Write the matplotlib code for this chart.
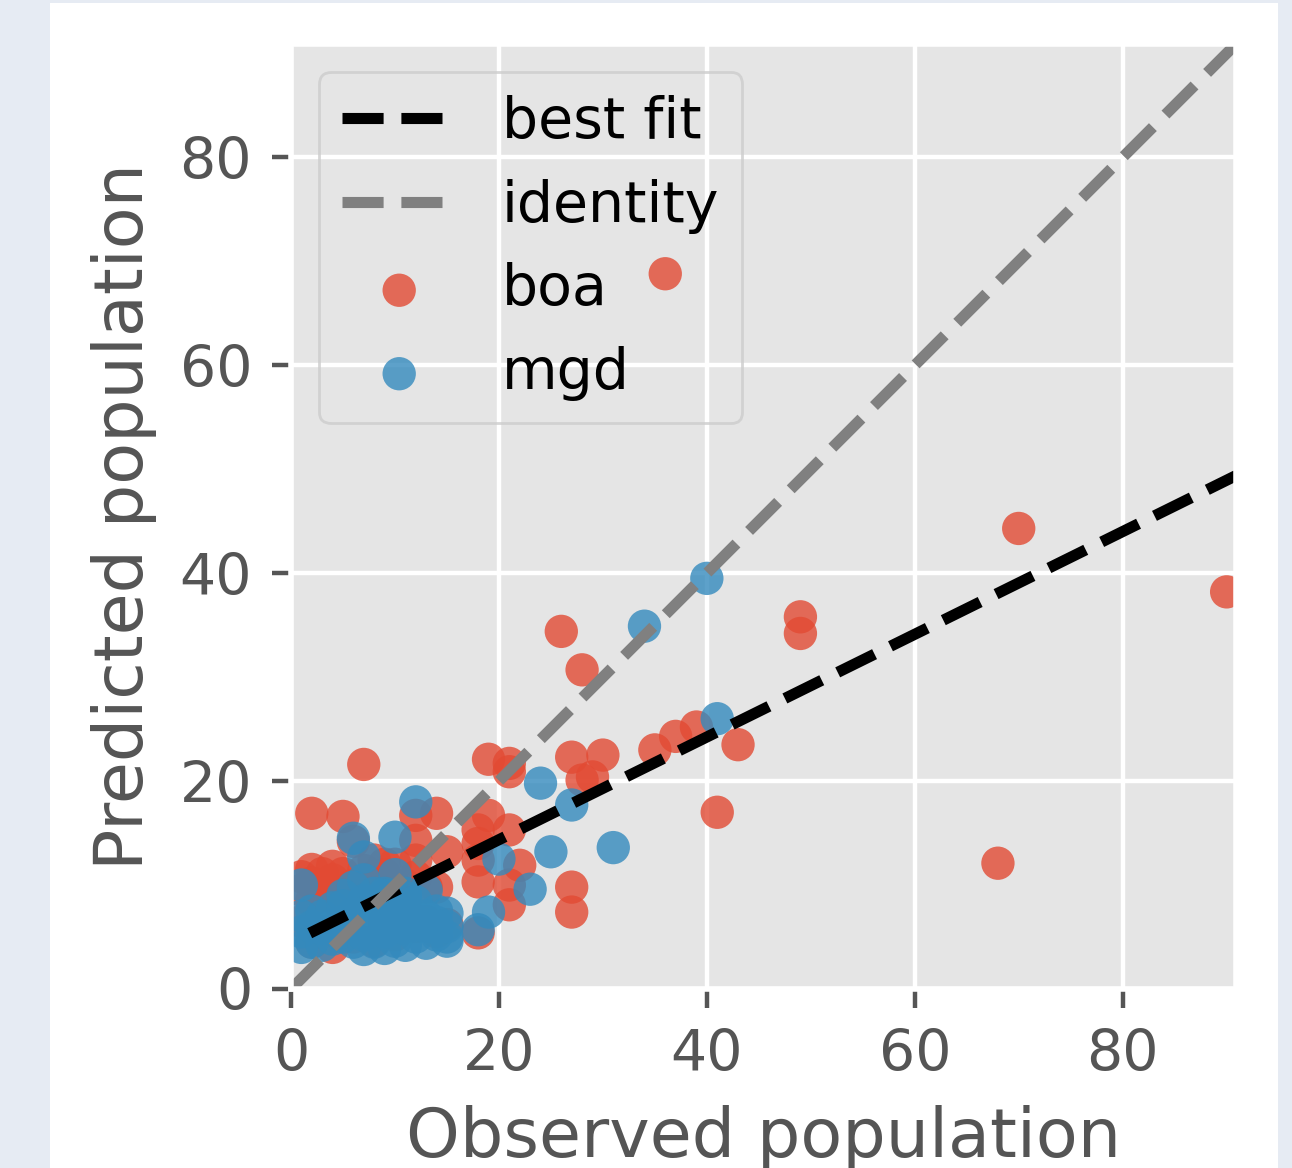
# observed vs predicted population, boa / mgd
import numpy as np
import matplotlib.pyplot as plt
from matplotlib.patches import Rectangle

plt.style.use("ggplot")
plt.rcParams["font.size"] = 10.25

DPI = 400
LIM = 90.9

# boa: (observed, predicted)
boa_obs = [36, 70, 90, 49, 49, 26, 28, 43, 41, 68,
           39, 37, 35, 30, 27, 28, 29, 27, 27,
           19, 21, 21, 19, 18, 21, 18, 15, 22, 18, 18, 21, 21, 18,
           7, 2, 5, 12, 14, 6, 12, 8, 9, 12, 3, 5, 1, 12, 13, 14,
           1, 2, 3, 4, 2, 4, 5, 6, 7, 8, 9, 10, 11, 9, 3, 6, 8, 10, 11, 7, 4, 2,
           2, 4, 3, 6, 8, 10, 12, 14, 13, 15, 5, 9, 1, 11]
boa_pred = [68.8, 44.3, 38.2, 35.8, 34.2, 34.4, 30.7, 23.5, 17.0, 12.1,
            25.2, 24.3, 23.0, 22.5, 22.3, 20.1, 20.4, 9.8, 7.4,
            22.1, 21.7, 20.9, 16.7, 15.3, 15.3, 14.0, 13.2, 11.9, 12.4, 10.3, 10.0, 8.1, 5.4,
            21.6, 16.9, 16.6, 16.7, 16.9, 14.2, 14.3, 12.4, 12.0, 12.4, 11.1, 11.1, 10.8, 10.8, 9.8, 9.8,
            9.5, 10.2, 9.0, 10.5, 8.5, 8.8, 9.5, 10.0, 9.2, 10.8, 11.0, 9.8, 10.0, 8.8, 10.0, 8.6, 9.0, 12.0, 8.5, 11.4, 11.8, 11.5,
            4.5, 4.0, 5.5, 5.0, 4.6, 5.2, 6.0, 5.5, 6.5, 6.2, 7.0, 6.5, 6.5, 7.5]

# mgd: (observed, predicted)
mgd_obs = [40, 34, 41, 24, 27, 25, 31, 20, 23, 19, 18, 15, 12, 6, 10, 7, 10, 1, 6, 7, 9, 11, 13, 14, 15,
           1, 1, 1, 2, 2, 2, 3, 3, 3, 4, 4, 4, 5, 5, 5, 6, 6, 6, 7, 7, 7, 7, 8, 8, 8,
           9, 9, 9, 10, 10, 10, 11, 11, 11, 12, 12, 13, 13, 13, 14, 14, 15, 15, 9, 11, 8, 12, 5]
mgd_pred = [39.5, 34.9, 26.0, 19.8, 17.7, 13.2, 13.6, 12.5, 9.6, 7.4, 5.7, 5.0, 18.0, 14.5, 14.6, 12.7, 11.0, 10.0, 9.8, 10.5, 9.2, 9.2, 9.5, 7.5, 7.3,
            4.0, 5.5, 7.0, 4.5, 6.0, 7.5, 4.2, 5.8, 7.0, 4.8, 6.2, 7.8, 5.0, 6.5, 8.0, 4.5, 6.0, 7.2, 3.8, 5.2, 6.8, 8.5, 4.5, 6.0, 7.5,
            3.9, 5.5, 7.0, 4.6, 6.2, 8.0, 4.2, 5.8, 7.2, 5.0, 6.5, 4.4, 6.0, 7.0, 5.2, 6.4, 4.6, 6.0, 9.0, 8.8, 9.2, 8.4, 9.0]

# best fit line
fit_slope = 0.494
fit_intercept = 4.48
fit_x = np.array([1.8, LIM])

fig = plt.figure(figsize=(1292 / DPI, 1168 / DPI), dpi=DPI, facecolor="#e6ebf3")
fig.add_artist(Rectangle((50 / 1292, 0), 1228 / 1292, 1165 / 1168,
                         transform=fig.transFigure, facecolor="white",
                         edgecolor="none", zorder=-10))
ax = fig.add_axes([291 / 1292, 179 / 1168, 945 / 1292, 945 / 1168])

ax.plot(fit_x, fit_slope * fit_x + fit_intercept, "--", color="k", lw=2, label="best fit")
ax.plot([0, LIM], [0, LIM], "--", color="gray", lw=2, label="identity")
ax.scatter(boa_obs, boa_pred, alpha=0.8, edgecolors="none", label="boa")
ax.scatter(mgd_obs, mgd_pred, alpha=0.8, edgecolors="none", label="mgd")

ax.set_xlim(0, LIM)
ax.set_ylim(0, LIM)
ax.set_xticks([0, 20, 40, 60, 80])
ax.set_yticks([0, 20, 40, 60, 80])
ax.set_xlabel("Observed population")
ax.set_ylabel("Predicted population")
leg = ax.legend(loc="upper left")
leg.get_frame().set_facecolor("none")

plt.savefig("out.png", dpi=DPI, facecolor=fig.get_facecolor())
